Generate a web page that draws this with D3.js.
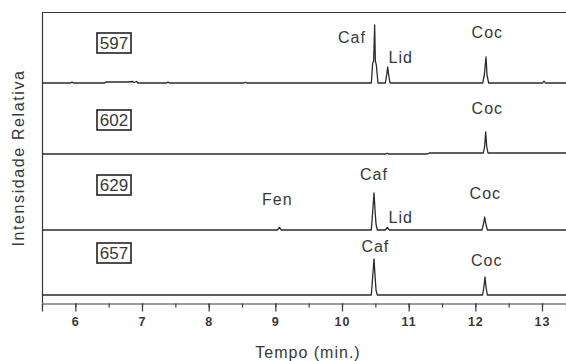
<!DOCTYPE html>
<html>
<head>
<meta charset="utf-8">
<script src="https://cdn.jsdelivr.net/npm/d3@7"></script>
<style>
  body { margin: 0; background: #fff; }
  svg { display: block; font-family: "Liberation Sans", Arial, sans-serif; }
</style>
</head>
<body>
<svg id="chart" width="566" height="361"></svg>
<script>
// sample names, top to bottom
var samples = ["597", "602", "629", "657"];
// vertical offset of each trace (relative intensity units)
var offsets = [220, 149, 73, 8];

// chromatograms: [tempo (min), intensidade]
var trace597 = [
  [5.5, 0], [5.93, 0], [5.95, 1], [5.97, 0], [6.44, 0], [6.46, 1], [6.78, 1],
  [6.86, 1.5], [6.88, 0.5], [6.92, 1.5], [6.94, 0], [7.37, 0], [7.39, 1], [7.41, 0],
  [8.53, 0], [8.55, 0.8], [8.57, 0],
  [10.44, 0], [10.46, 20], [10.475, 22], [10.49, 58], [10.50, 22], [10.515, 18], [10.54, 0],
  [10.65, 0], [10.67, 8], [10.685, 16], [10.70, 8], [10.72, 0],
  [12.11, 0], [12.135, 8], [12.16, 26], [12.175, 8], [12.20, 0],
  [13.01, 0], [13.03, 2], [13.05, 0], [13.4, 0]
];
var trace602 = [
  [5.5, 0], [10.66, 0], [10.68, 0.8], [10.70, 0], [11.28, 0], [11.31, 1],
  [12.12, 1], [12.14, 8], [12.155, 22], [12.17, 8], [12.19, 1], [13.4, 1]
];
var trace629 = [
  [5.5, 0], [9.03, 0], [9.06, 2.5], [9.09, 0],
  [10.44, 0], [10.46, 18], [10.48, 37], [10.495, 20], [10.51, 6], [10.53, 0],
  [10.65, 0], [10.68, 2.5], [10.71, 0],
  [12.10, 0], [12.125, 7], [12.14, 13], [12.155, 7], [12.18, 0], [13.4, 0]
];
var trace657 = [
  [5.5, 0], [10.44, 0], [10.46, 18], [10.48, 36], [10.495, 20], [10.51, 5], [10.53, 0],
  [12.11, 0], [12.13, 9], [12.145, 18], [12.16, 8], [12.18, 0], [13.4, 0]
];
var traces = [trace597, trace602, trace629, trace657];

// peak labels: [panel, text, tempo, intensidade of label baseline]
var peakLabels = [
  [0, "Caf", 10.15, 40], [0, "Lid", 10.88, 20], [0, "Coc", 12.18, 45],
  [1, "Coc", 12.18, 40],
  [2, "Fen", 9.03, 25], [2, "Caf", 10.48, 50], [2, "Lid", 10.88, 7], [2, "Coc", 12.15, 31],
  [3, "Caf", 10.50, 43], [3, "Coc", 12.17, 29]
];
// sample box position: y in intensidade (box center)
var boxY = [260, 183, 118, 50];

var xTicks = d3.range(6, 14);
var xMinor = d3.range(5.5, 13.5, 0.5);

var svg = d3.select("#chart");
var mLeft = 42, mTop = 12, mBottom = 303, mRight = 566;

var x = d3.scaleLinear().domain([5.5, 13.36]).range([mLeft, mRight]);
var y = d3.scaleLinear().domain([0, mBottom - mTop]).range([mBottom, mTop]);

var axisColor = "#3a3a3a";
var textColor = "#383838";

// frame lines
svg.append("line").attr("x1", mLeft).attr("x2", mRight).attr("y1", mTop + 0.5).attr("y2", mTop + 0.5)
  .style("stroke", axisColor).style("stroke-width", 1.2);
svg.append("line").attr("x1", mLeft + 0.5).attr("x2", mLeft + 0.5).attr("y1", mTop).attr("y2", mBottom)
  .style("stroke", axisColor).style("stroke-width", 1.2);

// x axis with major + minor ticks
var xAxis = svg.append("g").attr("transform", "translate(0," + (mBottom + 0.5) + ")")
  .call(d3.axisBottom(x).tickValues(xTicks).tickSize(8).tickPadding(6).tickFormat(d3.format("d")));
svg.append("g").attr("transform", "translate(0," + (mBottom + 0.5) + ")")
  .call(d3.axisBottom(x).tickValues(xMinor).tickSize(4).tickFormat(""))
  .select(".domain").remove();
svg.selectAll(".tick line").style("stroke", axisColor).style("stroke-width", 1.2);
xAxis.select(".domain").style("stroke", axisColor).style("stroke-width", 1.2);
xAxis.selectAll("text").style("font-size", "12.5px").style("letter-spacing", "1px")
  .style("font-weight", "600")
  .style("fill", textColor).style("font-family", "Liberation Sans, Arial, sans-serif");

// axis titles
svg.append("text").attr("x", 308).attr("y", 358).attr("text-anchor", "middle")
  .style("font-size", "16px").style("letter-spacing", "1px").style("fill", textColor)
  .text("Tempo (min.)");
svg.append("text").attr("transform", "translate(24,158) rotate(-90)").attr("text-anchor", "middle")
  .style("font-size", "16px").style("letter-spacing", "1.6px").style("fill", textColor)
  .text("Intensidade Relativa");

// traces
var line = d3.line()
  .x(function (d) { return x(d[0]); })
  .y(function (d) { return d.y; });

traces.forEach(function (data, i) {
  var pts = data.map(function (d) { return { 0: d[0], y: y(d[1] + offsets[i]) }; });
  svg.append("path")
    .attr("d", line(pts))
    .style("fill", "none")
    .style("stroke", "#2b2b2b")
    .style("stroke-width", 1.3)
    .style("stroke-linejoin", "round");
});

// sample boxes
samples.forEach(function (name, i) {
  var cy = y(boxY[i]);
  svg.append("rect").attr("x", 97).attr("y", cy - 10).attr("width", 34).attr("height", 20)
    .style("fill", "#fff").style("stroke", "#222").style("stroke-width", 1.6);
  svg.append("text").attr("x", 114).attr("y", cy + 6).attr("text-anchor", "middle")
    .style("font-size", "17px").style("fill", textColor).text(name);
});

// peak labels
svg.selectAll(".peak-label").data(peakLabels).enter().append("text")
  .attr("class", "peak-label")
  .attr("x", function (d) { return x(d[2]); })
  .attr("y", function (d) { return y(d[3] + offsets[d[0]]); })
  .attr("text-anchor", "middle")
  .style("font-size", "16px").style("letter-spacing", "1px").style("fill", textColor)
  .text(function (d) { return d[1]; });
</script>
</body>
</html>
